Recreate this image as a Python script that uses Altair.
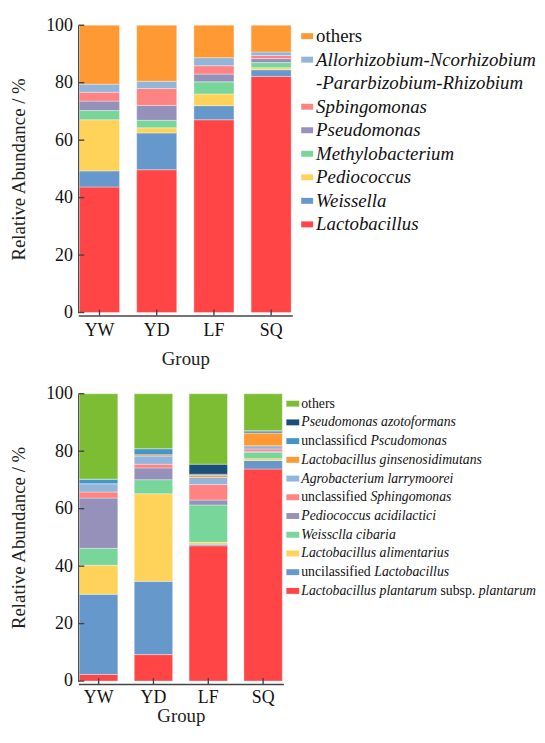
import altair as alt
import pandas as pd

FONT = "'Liberation Serif', 'Times New Roman', Times, serif"

groups = ["YW", "YD", "LF", "SQ"]

# ---------- top panel (genus level), stacking order bottom -> top ----------
top_taxa = ["Lactobacillus", "Weissella", "Pediococcus", "Methylobacterium",
            "Pseudomonas", "Spbingomonas",
            "Allorhizobium-Ncorhizobium-Pararbizobium-Rhizobium", "others"]
top_colors = ["#ff4545", "#6698cb", "#ffd25a", "#78d69b",
              "#9691bb", "#ff8383", "#92b5d9", "#ff9933"]
top_YW = [43.7, 5.6, 17.8, 3.2, 3.3, 3.1, 2.8, 20.5]
top_YD = [49.7, 12.8, 1.8, 2.6, 5.2, 5.9, 2.5, 19.5]
top_LF = [67.1, 4.9, 4.1, 4.2, 2.7, 2.9, 2.8, 11.3]
top_SQ = [82.2, 2.3, 0.7, 1.8, 1.4, 1.1, 1.2, 9.3]
# legend rows, top -> bottom: (segments, taxon index or None)
top_legend = [
    ([("others", False)], 7),
    ([("Allorhizobium-Ncorhizobium", True)], 6),
    ([("-Pararbizobium-Rhizobium", True)], None),
    ([("Spbingomonas", True)], 5),
    ([("Pseudomonas", True)], 4),
    ([("Methylobacterium", True)], 3),
    ([("Pediococcus", True)], 2),
    ([("Weissella", True)], 1),
    ([("Lactobacillus", True)], 0),
]

# ---------- bottom panel (species level), stacking order bottom -> top ----------
bot_taxa = ["Lactobacillus plantarum subsp. plantarum", "uncilassified Lactobacillus",
            "Lactobacillus alimentarius", "Weissclla cibaria", "Pediococcus acidilactici",
            "unclassified Sphingomonas", "Agrobacterium larrymoorei",
            "Lactobacillus ginsenosidimutans", "unclassificd Pscudomonas",
            "Pseudomonas azotoformans", "others"]
bot_colors = ["#ff4545", "#6698cb", "#ffd25a", "#78d69b", "#9691bb",
              "#ff8383", "#92b5d9", "#ff9933", "#4595c9", "#1b4f78", "#7cbd33"]
bot_YW = [2.3, 27.9, 10.1, 5.9, 17.5, 2.1, 2.9, 0.0, 1.6, 0.0, 29.7]
bot_YD = [9.2, 25.5, 30.5, 4.9, 4.1, 1.3, 2.8, 0.5, 2.1, 0.0, 19.1]
bot_LF = [47.1, 0.5, 0.7, 13.0, 1.7, 5.4, 2.5, 0.7, 0.4, 3.5, 24.5]
bot_SQ = [73.8, 3.0, 0.6, 2.2, 0.4, 0.8, 1.1, 4.4, 0.6, 0.3, 12.8]
bot_legend = [
    ([("others", False)], 10),
    ([("Pseudomonas azotoformans", True)], 9),
    ([("unclassificd ", False), ("Pscudomonas", True)], 8),
    ([("Lactobacillus ginsenosidimutans", True)], 7),
    ([("Agrobacterium larrymoorei", True)], 6),
    ([("unclassified ", False), ("Sphingomonas", True)], 5),
    ([("Pediococcus acidilactici", True)], 4),
    ([("Weissclla cibaria", True)], 3),
    ([("Lactobacillus alimentarius", True)], 2),
    ([("uncilassified ", False), ("Lactobacillus", True)], 1),
    ([("Lactobacillus plantarum", True), (" subsp. ", False), ("plantarum", True)], 0),
]

y_ticks = [0, 20, 40, 60, 80, 100]

# approximate Times glyph widths (per 1000 em) to place mixed-style segments
ROMAN = dict(zip("abcdefghijklmnopqrstuvwxyz .",
                 [444, 500, 444, 500, 444, 333, 500, 500, 278, 278, 500, 278, 778,
                  500, 500, 500, 500, 333, 389, 278, 500, 500, 722, 500, 500, 444, 250, 250]))
ITALIC = dict(zip("abcdefghijklmnopqrstuvwxyz .L",
                  [500, 500, 444, 500, 444, 278, 500, 500, 278, 278, 444, 278, 722,
                   500, 500, 500, 500, 389, 389, 278, 500, 444, 667, 444, 444, 389, 250, 250, 556]))


def text_w(s, italic, size):
    tbl = ITALIC if italic else ROMAN
    return sum(tbl.get(c, 600) for c in s) * size / 1000.0


def make_df(taxa, colors, cols):
    rows = []
    for g, vals in zip(groups, cols):
        for i, (t, v) in enumerate(zip(taxa, vals)):
            rows.append({"Group": g, "taxon": t, "value": v, "idx": i, "color": colors[i]})
    return pd.DataFrame(rows)


def bar_panel(df, width, height, label_pad, title_pad):
    xs = alt.Scale(domain=groups, paddingInner=0.3, paddingOuter=0.02)
    ys = alt.Scale(domain=[0, 100], nice=False)
    xaxis = alt.Axis(title="Group", labelFontSize=18, titleFontSize=19, labelAngle=0,
                     offset=3, tickSize=0, labelPadding=label_pad, titlePadding=title_pad,
                     domainColor="#444", domainWidth=1.6, labelColor="#111",
                     titleColor="#222", titleFontWeight="normal",
                     labelFont=FONT, titleFont=FONT)
    yaxis = alt.Axis(title="Relative Abundance / %", values=y_ticks, labelFontSize=18,
                     titleFontSize=19, tickSize=0, labelPadding=6, titlePadding=17,
                     domainColor="#444", domainWidth=1.6, grid=False, labelColor="#111",
                     titleColor="#222", titleFontWeight="normal",
                     labelFont=FONT, titleFont=FONT)
    bars = alt.Chart(df).mark_bar(stroke="white", strokeWidth=0.5, strokeOpacity=0.7).encode(
        x=alt.X("Group:N", scale=xs, axis=xaxis),
        y=alt.Y("value:Q", stack="zero", scale=ys, axis=yaxis),
        color=alt.Color("color:N", scale=None),
        detail="taxon:N",
        order=alt.Order("idx:Q", sort="ascending"),
    )
    yt = alt.Chart(pd.DataFrame({"value": y_ticks})).mark_rule(
        color="#444", strokeWidth=1.4).encode(
        y=alt.Y("value:Q", scale=ys, axis=yaxis), x=alt.value(0), x2=alt.value(6))
    xt = alt.Chart(pd.DataFrame({"Group": groups})).mark_rule(
        color="#444", strokeWidth=1.4).encode(
        x=alt.X("Group:N", scale=xs, axis=xaxis),
        y=alt.value(height - 3), y2=alt.value(height + 3))
    return alt.layer(bars, yt, xt).properties(width=width, height=height)


def legend_panel(entries, colors, font_size, y_first, y_step, sym_cx, text_x,
                 sym_size, sym_path, width, height):
    sym_rows, rom_rows, ita_rows = [], [], []
    for r, (segs, ti) in enumerate(entries):
        if ti is not None:
            sym_rows.append({"row": r, "color": colors[ti]})
        x = text_x
        for s, it in segs:
            lead = s[:len(s) - len(s.lstrip())]
            (ita_rows if it else rom_rows).append(
                {"row": r, "text": s.strip(), "xpos": x + text_w(lead, it, font_size)})
            x += text_w(s, it, font_size)
    n = len(entries)
    ys = alt.Scale(domain=[0, n - 1], range=[y_first, y_first + (n - 1) * y_step],
                   nice=False, zero=False)
    xs = alt.Scale(domain=[0, width], nice=False, zero=True)
    sym = alt.Chart(pd.DataFrame(sym_rows)).mark_point(
        shape=sym_path, size=sym_size, filled=True, opacity=1, strokeWidth=0).encode(
        x=alt.value(sym_cx), y=alt.Y("row:Q", scale=ys, axis=None),
        color=alt.Color("color:N", scale=None))
    layers = [sym]
    for rows, style in ((rom_rows, "normal"), (ita_rows, "italic")):
        if rows:
            layers.append(alt.Chart(pd.DataFrame(rows)).mark_text(
                align="left", baseline="middle", font=FONT, fontSize=font_size,
                fontStyle=style, color="#111").encode(
                x=alt.X("xpos:Q", scale=xs, axis=None),
                y=alt.Y("row:Q", scale=ys, axis=None), text="text:N"))
    return alt.layer(*layers).properties(width=width, height=height)


H = 290
top_df = make_df(top_taxa, top_colors, [top_YW, top_YD, top_LF, top_SQ])
bot_df = make_df(bot_taxa, bot_colors, [bot_YW, bot_YD, bot_LF, bot_SQ])

top_bars = bar_panel(top_df, 216, H, 6, 10)
top_leg = legend_panel(top_legend, top_colors, 19, 11, 23.75, 6, 15, 144,
                       "M-1,-0.5H1V0.5H-1Z", 220, H)
bot_bars = bar_panel(bot_df, 207, H, 5, 0)
bot_leg = legend_panel(bot_legend, bot_colors, 13.9, 10, 18.9, 6.5, 15, 169,
                       "M-1,-0.46H1V0.46H-1Z", 235, H)

row1 = alt.hconcat(top_bars, top_leg, spacing=9, bounds="flush").resolve_scale(
    x="independent", y="independent", color="independent")
row2 = alt.hconcat(bot_bars, bot_leg, spacing=3, bounds="flush").resolve_scale(
    x="independent", y="independent", color="independent")

chart = alt.vconcat(row1, row2, spacing=17).resolve_scale(
    x="independent", y="independent", color="independent"
).properties(
    padding={"left": 2, "top": 5, "right": 0, "bottom": 0}
).configure_view(stroke=None)

chart.save("out.html", embed_options={"renderer": "svg", "actions": False})
